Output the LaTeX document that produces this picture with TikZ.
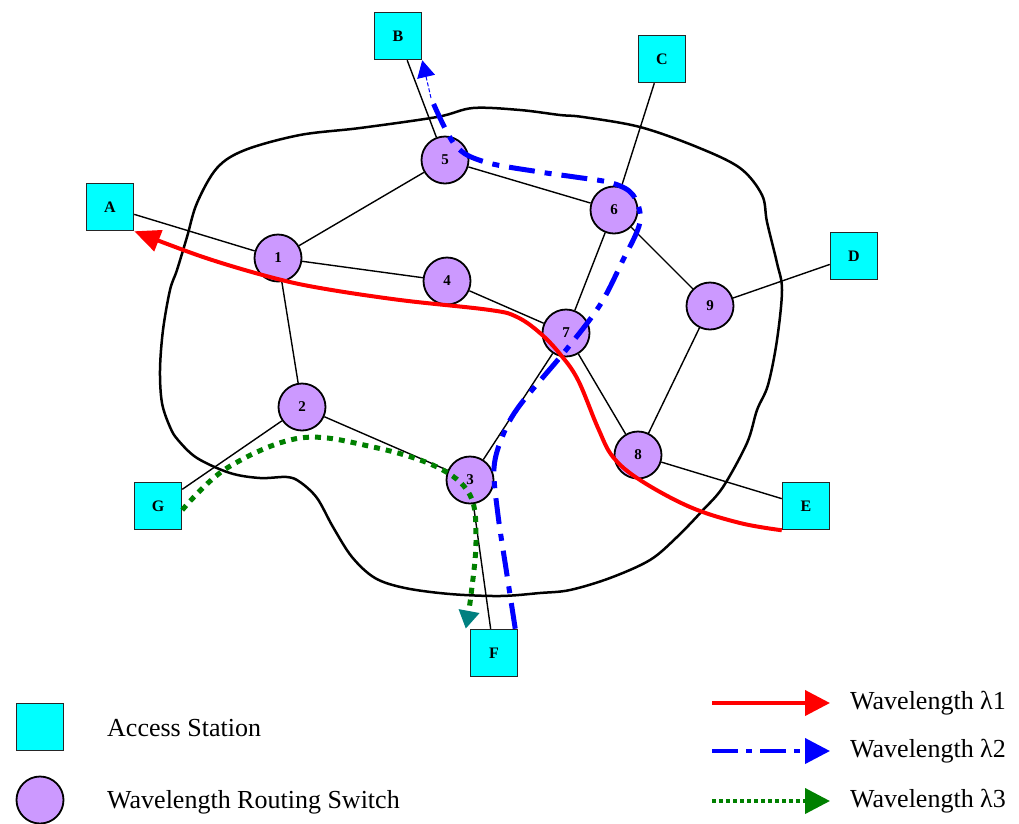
\documentclass[tikz,border=0pt]{standalone}
\usepackage{fontspec}
\setmainfont{Liberation Serif}
\usetikzlibrary{arrows.meta}
\definecolor{stationcyan}{RGB}{0,255,255}
\definecolor{switchlilac}{RGB}{204,153,255}
\definecolor{lamblue}{RGB}{0,0,255}
\definecolor{lamgreen}{RGB}{0,128,0}
\definecolor{tiptteal}{RGB}{0,128,128}

\begin{document}
\begin{tikzpicture}[x=1pt,y=-1pt,
  station/.style={draw=black!85, line width=1.5pt, fill=stationcyan,
    minimum size=47pt, inner sep=0pt, font=\fontsize{16}{16}\selectfont\bfseries},
  switchnode/.style={circle, draw=black, line width=1.8pt, fill=switchlilac,
    minimum size=47pt, inner sep=0pt, font=\fontsize{15}{15}\selectfont\bfseries},
  link/.style={line width=1.4pt},
  region/.style={line width=2.5pt, line join=round},
  lamone/.style={red, line width=4pt},
  lamtwo/.style={lamblue, line width=5pt, dash pattern=on 26pt off 10pt on 7pt off 10pt},
  lamthree/.style={lamgreen, line width=5pt, dash pattern=on 6pt off 6pt},
  legendtext/.style={anchor=west, inner sep=0pt, font=\fontsize{26}{30}\selectfont},
]
\useasboundingbox (0,0) rectangle (1019,823);

% network region outline
\draw[region] plot[smooth cycle, tension=0.55] coordinates {
  (217,168) (245,150) (300,135) (360,128) (437,117) (473,108) (520,110)
  (560,115) (583,117) (640,127) (697,147) (740,168) (762,195) (767,222)
  (777,263) (782,290) (777,340) (768,385) (757,410) (747,443) (723,487)
  (703,510) (677,537) (650,560) (610,578) (570,590) (540,593) (500,596)
  (450,594) (405,588) (375,578) (352,557) (333,527) (317,498) (300,482)
  (287,477) (260,478) (230,473) (197,458) (178,440) (170,427) (162,403)
  (160,370) (163,330) (170,290) (177,270) (187,237) (197,203)};

% access stations
\node[station] (B) at (398,36)  {B};
\node[station] (C) at (662,59)  {C};
\node[station] (A) at (110,207) {A};
\node[station] (D) at (854,256) {D};
\node[station] (E) at (806,506) {E};
\node[station] (G) at (158,506) {G};
\node[station] (F) at (494,653) {F};

% wavelength routing switches
\node[switchnode] (n5) at (445,160) {5};
\node[switchnode] (n6) at (614,210) {6};
\node[switchnode] (n1) at (278,258) {1};
\node[switchnode] (n4) at (447,281) {4};
\node[switchnode] (n7) at (566,333) {7};
\node[switchnode] (n9) at (710,306) {9};
\node[switchnode] (n2) at (302,407) {2};
\node[switchnode] (n3) at (470,480) {3};
\node[switchnode] (n8) at (638,455) {8};

% fibre links
\draw[link] (B) -- (n5);
\draw[link] (C) -- (n6);
\draw[link] (A) -- (n1);
\draw[link] (n5) -- (n1);
\draw[link] (n5) -- (n6);
\draw[link] (n1) -- (n4);
\draw[link] (n4) -- (n7);
\draw[link] (n1) -- (n2);
\draw[link] (n6) -- (n7);
\draw[link] (n6) -- (n9);
\draw[link] (n9) -- (D);
\draw[link] (n9) -- (n8);
\draw[link] (n7) -- (n8);
\draw[link] (n7) -- (n3);
\draw[link] (n2) -- (n3);
\draw[link] (n2) -- (G);
\draw[link] (n3) -- (F);
\draw[link] (n8) -- (E);

% lightpath on wavelength 1: E -> A
\draw[lamone, -{Triangle[length=26pt,width=22pt]}]
  plot[smooth, tension=0.6] coordinates {
  (E.south west) (740,523) (690,507) (640,480) (613,457) (598,428)
  (578,380) (560,354) (540,333) (517,317) (490,310) (400,300)
  (320,288) (270,277) (203,257) (A.south east)};

% lightpath on wavelength 2: F -> B
\coordinate (bturn) at (431,98);
\draw[lamtwo] plot[smooth, tension=0.55] coordinates {
  ([xshift=-3pt]F.north east) (507,575) (498,515) (494,468) (503,435)
  (520,405) (566,350) (600,305) (622,262) (640,222) (633,195) (612,183)
  (575,177) (540,172) (485,162) (455,145) (bturn)};
\draw[lamblue, line width=1pt, dash pattern=on 4pt off 2pt,
  -{Triangle[length=17pt,width=18pt,color=lamblue]}] (bturn) -- (B.south east);

% lightpath on wavelength 3: G -> F
\draw[lamthree, -{Triangle[length=18pt,width=20pt,color=tiptteal]}]
  plot[smooth, tension=0.6] coordinates {
  ([yshift=-4pt]G.east) (227,468) (300,438) (373,447) (437,467) (470,495)
  (476,540) (471,595) ([xshift=-4pt]F.north west)};

% legend: node types
\node[station] (keyAS) at (40,727) {};
\node[switchnode] (keyWRS) at (40,800) {};
\node[legendtext] (txtAS) at (107,728) {Access Station};
\node[legendtext] (txtWRS) at (107,802) {Wavelength Routing Switch};

% legend: wavelengths
\coordinate (ka) at (712,703); \coordinate (kb) at (830,703);
\coordinate (kc) at (712,751); \coordinate (kd) at (830,751);
\coordinate (ke) at (712,801); \coordinate (kf) at (830,801);
\draw[red, line width=4pt, -{Triangle[length=25pt,width=25pt]}] (ka) -- (kb);
\draw[lamblue, line width=4pt, dash pattern=on 26pt off 8pt on 6pt off 8pt,
  -{Triangle[length=25pt,width=25pt]}] (kc) -- (kd);
\draw[lamgreen, line width=4pt, dash pattern=on 4pt off 3pt,
  -{Triangle[length=25pt,width=25pt]}] (ke) -- (kf);
\node[legendtext] (txt1) at (850,703) {Wavelength λ1};
\node[legendtext] (txt2) at (850,751) {Wavelength λ2};
\node[legendtext] (txt3) at (850,801) {Wavelength λ3};
\end{tikzpicture}
\end{document}
